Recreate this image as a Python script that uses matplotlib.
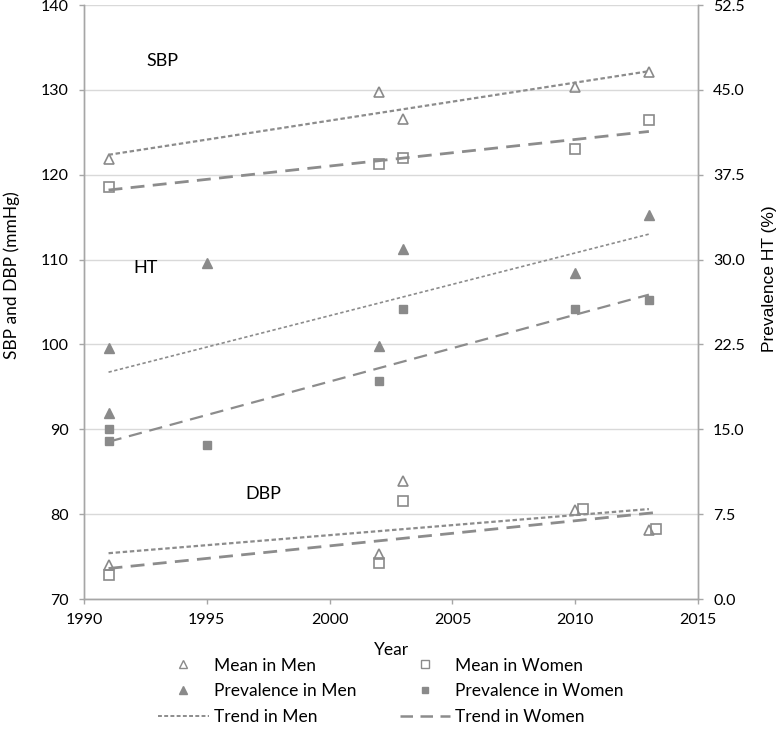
import matplotlib.pyplot as plt
from matplotlib.lines import Line2D

plt.rcParams['font.family'] = ['Lato', 'DejaVu Sans']

# 数据
sbp_years = [1991, 2002, 2003, 2010, 2013]
sbp_men = [121.8, 129.7, 126.6, 130.3, 132.1]
sbp_women = [118.5, 121.3, 122.0, 123.0, 126.4]

dbp_years_men = [1991, 2002, 2003, 2010, 2013]
dbp_men = [74.0, 75.3, 83.9, 80.5, 78.1]
dbp_years_women = [1991, 2002, 2003, 2010.3, 2013.3]
dbp_women = [72.8, 74.2, 81.5, 80.6, 78.2]

prev_years_men = [1991, 1991, 1995, 2002, 2003, 2010, 2013]
prev_men = [22.2, 16.4, 29.7, 22.4, 30.9, 28.8, 33.9]
prev_years_women = [1991, 1991, 1995, 2002, 2003, 2010, 2013]
prev_women = [15.0, 14.0, 13.6, 19.3, 25.6, 25.6, 26.4]

# 趋势线端点
trend_years = [1991, 2013]
trend_sbp_men = [122.35, 132.2]
trend_sbp_women = [118.2, 125.1]
trend_dbp_men = [75.4, 80.6]
trend_years_dbp_women = [1991, 2013.3]
trend_dbp_women = [73.6, 80.2]
trend_prev_men = [20.05, 32.25]
trend_prev_women = [13.9, 26.9]

gray = '#8a8a8a'
line_gray = '#8c8c8c'
axis_gray = '#a6a6a6'

fig = plt.figure(figsize=(7.82, 7.29), dpi=100)
ax = fig.add_axes([0.1074, 0.1783, 0.7852, 0.8148])
ax2 = ax.twinx()

ms = 6.5
# 平均值 (空心)
ax.plot(sbp_years, sbp_men, linestyle='none', marker='^', ms=ms, mfc='none', mec=gray, mew=1.2)
ax.plot(sbp_years, sbp_women, linestyle='none', marker='s', ms=ms, mfc='none', mec=gray, mew=1.2)
ax.plot(dbp_years_men, dbp_men, linestyle='none', marker='^', ms=ms, mfc='none', mec=gray, mew=1.2)
ax.plot(dbp_years_women, dbp_women, linestyle='none', marker='s', ms=ms, mfc='none', mec=gray, mew=1.2)

# 趋势线
ax.plot(trend_years, trend_sbp_men, color=line_gray, lw=1.6, dashes=(2.0, 1.2))
ax.plot(trend_years, trend_sbp_women, color=line_gray, lw=2.0, dashes=(5, 3))
ax.plot(trend_years, trend_dbp_men, color=line_gray, lw=1.6, dashes=(2.0, 1.2))
ax.plot(trend_years_dbp_women, trend_dbp_women, color=line_gray, lw=2.0, dashes=(5, 3))

# 患病率 (实心)
ax2.plot(prev_years_men, prev_men, linestyle='none', marker='^', ms=ms, color=gray, mec=gray)
ax2.plot(prev_years_women, prev_women, linestyle='none', marker='s', ms=ms - 0.5, color=gray, mec=gray)
ax2.plot(trend_years, trend_prev_men, color=line_gray, lw=1.2, dashes=(2.0, 1.5))
ax2.plot(trend_years, trend_prev_women, color=line_gray, lw=1.6, dashes=(6, 3.5))

ax.set_xlim(1990, 2015)
ax.set_ylim(70, 140)
ax2.set_ylim(0, 52.5)
ax.set_xticks(range(1990, 2016, 5))
ax.set_yticks(range(70, 141, 10))
ax2.set_yticks([0, 7.5, 15, 22.5, 30, 37.5, 45, 52.5])
ax2.set_yticklabels(['0.0', '7.5', '15.0', '22.5', '30.0', '37.5', '45.0', '52.5'])

ax.grid(axis='y', color='#d9d9d9', lw=1.0)
ax.set_axisbelow(True)
for a in (ax, ax2):
    a.spines['top'].set_visible(False)
    for s in ('left', 'right', 'bottom'):
        a.spines[s].set_color(axis_gray)
        a.spines[s].set_linewidth(1.0)
    a.tick_params(colors=axis_gray, labelcolor='black', labelsize=11.5, length=3.8, width=1.0)
ax.tick_params(axis='y', pad=7)
ax.tick_params(axis='x', pad=6)
ax2.tick_params(axis='y', pad=7)

ax.set_xlabel('Year', fontsize=12.5, labelpad=11)
ax.set_ylabel('SBP and DBP (mmHg)', fontsize=12.5, va='center')
ax2.set_ylabel('Prevalence HT (%)', fontsize=12.5, va='center',
               family=['Liberation Sans', 'DejaVu Sans'])
ax.yaxis.set_label_coords(-0.117, 0.545)
ax2.yaxis.set_label_coords(1.117, 0.54)

ax.text(1993.2, 133.4, 'SBP', fontsize=13, ha='center', va='center')
ax.text(1992.5, 109.0, 'HT', fontsize=13, ha='center', va='center')
ax.text(1997.3, 82.4, 'DBP', fontsize=13, ha='center', va='center')

handles = [
    Line2D([], [], linestyle='none', marker='^', ms=6, mfc='none', mec=gray, mew=1.0),
    Line2D([], [], linestyle='none', marker='^', ms=6, color=gray),
    Line2D([], [], color=line_gray, lw=1.4, dashes=(2.0, 1.2)),
    Line2D([], [], linestyle='none', marker='s', ms=6, mfc='none', mec=gray, mew=1.0),
    Line2D([], [], linestyle='none', marker='s', ms=4.5, color=gray),
    Line2D([], [], color=line_gray, lw=1.8, dashes=(5, 3)),
]
labels = ['Mean in Men', 'Prevalence in Men', 'Trend in Men',
          'Mean in Women', 'Prevalence in Women', 'Trend in Women']
fig.legend(handles, labels, ncol=2, loc='center', bbox_to_anchor=(0.5, 0.052),
           frameon=False, fontsize=12.5, handlelength=2.9, columnspacing=2.5,
           labelspacing=0.55, handletextpad=0.3)

fig.savefig('out.png', dpi=100)
